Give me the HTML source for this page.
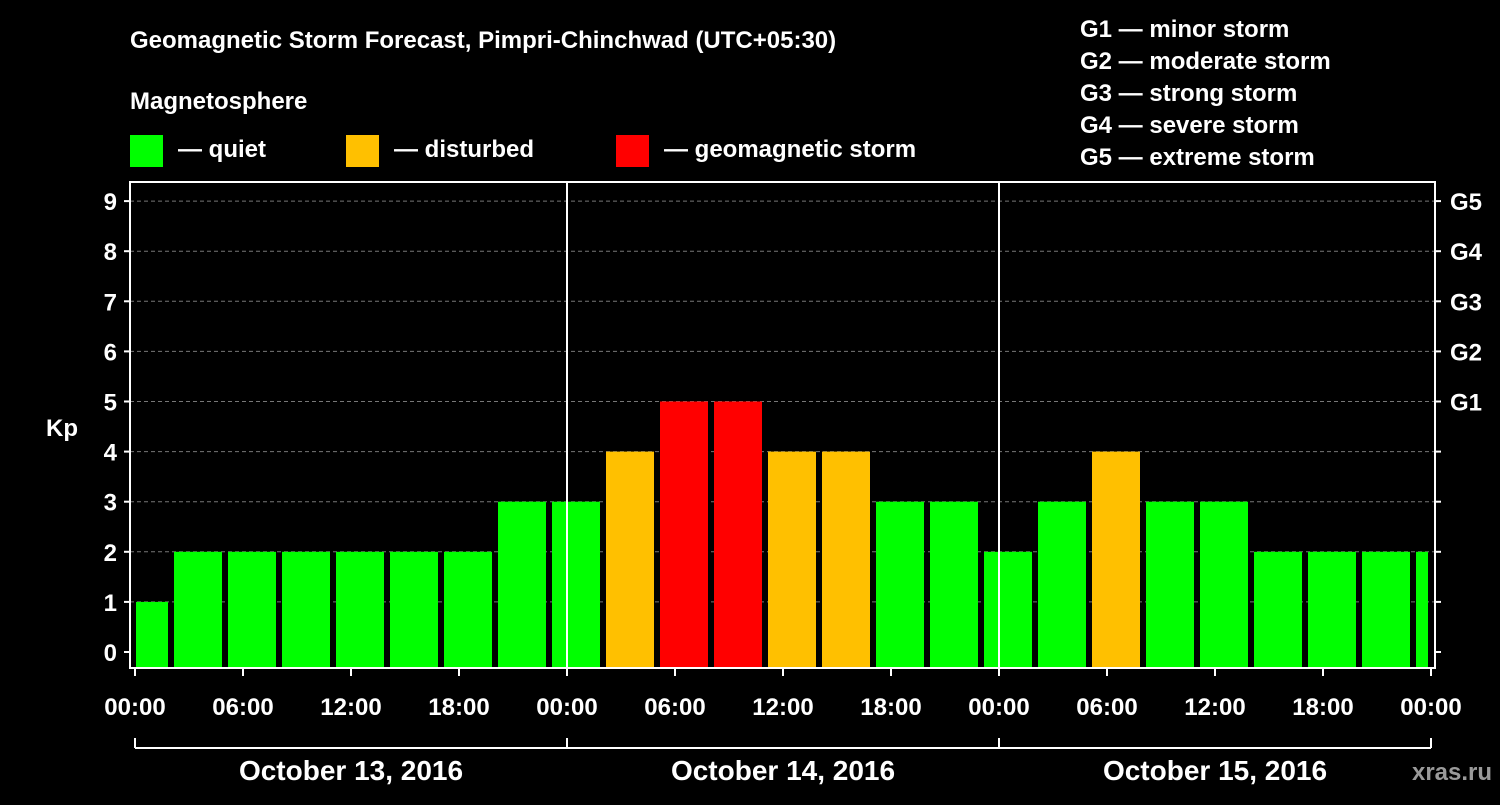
<!DOCTYPE html>
<html><head><meta charset="utf-8"><style>
body{margin:0;background:#000;}
svg text{font-family:"Liberation Sans",sans-serif;font-weight:bold;fill:#fff;}
</style></head><body>
<svg width="1500" height="800" xmlns="http://www.w3.org/2000/svg">
<rect width="1500" height="800" fill="#000"/>
<text x="130" y="48" font-size="24">Geomagnetic Storm Forecast, Pimpri-Chinchwad (UTC+05:30)</text>
<text x="130" y="109" font-size="24">Magnetosphere</text>
<rect x="130" y="135" width="33" height="32" fill="#00ff00"/>
<text x="178" y="157" font-size="24">— quiet</text>
<rect x="346" y="135" width="33" height="32" fill="#ffc000"/>
<text x="394" y="157" font-size="24">— disturbed</text>
<rect x="616" y="135" width="33" height="32" fill="#ff0000"/>
<text x="664" y="157" font-size="24">— geomagnetic storm</text>
<g font-size="24">
<text x="1080" y="37">G1 — minor storm</text>
<text x="1080" y="69">G2 — moderate storm</text>
<text x="1080" y="101">G3 — strong storm</text>
<text x="1080" y="133">G4 — severe storm</text>
<text x="1080" y="165">G5 — extreme storm</text>
</g>
<g id="grid"></g>
<g id="bars"></g>
<g id="axes"></g>
<text x="1452" y="780" font-size="24" fill="#888" style="fill:#9a9a9a" text-anchor="middle">xras.ru</text>
</svg>
<script>
const kpValues=[1,2,2,2,2,2,2,3,3,4,5,5,4,4,3,3,2,3,4,3,3,2,2,2,2];
const yTicks=[0,1,2,3,4,5,6,7,8,9];
const gLabels=["G1","G2","G3","G4","G5"];
const xTickLabels=["00:00","06:00","12:00","18:00","00:00","06:00","12:00","18:00","00:00","06:00","12:00","18:00","00:00"];
const dayLabels=["October 13, 2016","October 14, 2016","October 15, 2016"];
const NS="http://www.w3.org/2000/svg";
const X0=135,HOUR=18,L=130,R=1435,T=182,B=668;
const xs=h=>X0+h*HOUR;
const ys=v=>652-50.1*v;
function mk(tag,attrs,parent,txt){const e=document.createElementNS(NS,tag);for(const k in attrs)e.setAttribute(k,attrs[k]);if(txt!==undefined)e.textContent=txt;document.getElementById(parent).appendChild(e);return e;}
// grid
yTicks.forEach(v=>{if(v>0){const g=mk('line',{x1:L,x2:R,y1:ys(v),y2:ys(v),stroke:'#777','stroke-dasharray':'4,3','stroke-width':1},'grid');

}});
// bars
kpValues.forEach((v,i)=>{
 const h0=-1+3*i;let a=xs(h0)+3,b=xs(h0+3)-3;
 a=Math.max(a,X0+1);b=Math.min(b,xs(72)-3);
 const c=v>=5?'#ff0000':(v>=4?'#ffc000':'#00ff00');
 const r=mk('rect',{x:a,y:ys(v),width:b-a,height:B-ys(v),fill:c},'bars');
 
 
});
// frame
const f=mk('rect',{x:L,y:T,width:R-L,height:B-T,fill:'none',stroke:'#fff','stroke-width':2},'axes');


[24,48].forEach(h=>{const l=mk('line',{x1:xs(h),x2:xs(h),y1:T,y2:B,stroke:'#fff','stroke-width':2},'axes');

});
yTicks.forEach(v=>{
 mk('line',{x1:L-6,x2:L,y1:ys(v),y2:ys(v),stroke:'#fff','stroke-width':2},'axes');
 mk('line',{x1:R,x2:R+6,y1:ys(v),y2:ys(v),stroke:'#fff','stroke-width':2},'axes');
 const t=mk('text',{x:L-13,y:ys(v)+9,'font-size':24,'text-anchor':'end'},'axes',String(v));
 
 
});
gLabels.forEach((g,i)=>{const t=mk('text',{x:1450,y:ys(5+i)+9,'font-size':24},'axes',g);

});
const yt=mk('text',{x:62,y:436,'font-size':24,'text-anchor':'middle'},'axes','Kp');


xTickLabels.forEach((s,i)=>{const x=xs(6*i);
 mk('line',{x1:x,x2:x,y1:B,y2:B+8,stroke:'#fff','stroke-width':2},'axes');
 const t=mk('text',{x:x,y:715,'font-size':24,'text-anchor':'middle'},'axes',s);
 
 });
const bl=mk('line',{x1:xs(0),x2:xs(72),y1:748,y2:748,stroke:'#fff','stroke-width':2},'axes');


[0,24,48,72].forEach(h=>mk('line',{x1:xs(h),x2:xs(h),y1:738,y2:748,stroke:'#fff','stroke-width':2},'axes'));
dayLabels.forEach((d,i)=>{const t=mk('text',{x:xs(24*i+12),y:780,'font-size':28,'text-anchor':'middle'},'axes',d);

});
</script>
</body></html>
